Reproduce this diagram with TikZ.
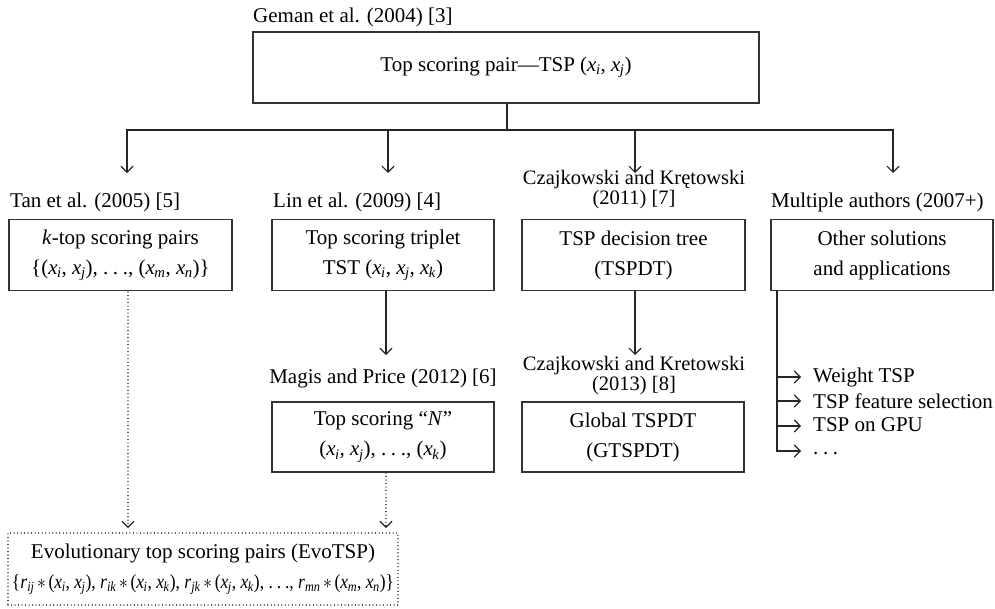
\documentclass[tikz,border=0pt]{standalone}
\usepackage{fix-cm}
\usepackage{graphicx}
\usepackage{fontspec}
\setmainfont{Liberation Serif}
\usetikzlibrary{arrows.meta}
\newcommand{\xv}[1]{\textit{x}\textsubscript{\kern-0.5pt\textit{#1}}}
\newcommand{\rv}[1]{\textit{r}\textsubscript{\textit{#1}}}
\newcommand{\dts}{.\kern0.22em.\kern0.22em.}
\newcommand{\mulop}{\kern0.15em$\ast$\kern0.15em}
\begin{document}
\begin{tikzpicture}[x=1pt,y=-1pt,
  every node/.style={font=\fontsize{21}{30}\selectfont},
  box/.style={draw=black!80,line width=1.3pt,align=center,inner sep=0pt,minimum height=71pt},
  lab/.style={inner sep=0pt,align=center},
  twolab/.style={inner sep=0pt,align=center,font=\fontsize{20.5}{20}\selectfont},
  line/.style={draw=black!85,line width=1.2pt},
  arr/.style={line,-{Straight Barb[length=6pt,width=12pt,line width=1.1pt]}},
  dotline/.style={draw=black!85,line width=1.1pt,dash pattern=on 0.01pt off 3.5pt,line cap=round},
  dotarr/.style={dotline,-{Straight Barb[length=6pt,width=12pt,line width=1.1pt,line cap=butt]}}
]
\useasboundingbox (0,0) rectangle (995,608);

% top
\node[lab,anchor=west] (geman) at (253,17) {Geman et al. (2004) [3]};
\node[box,minimum width=506pt] (top) at (506,67.5) {Top scoring pair---TSP (\xv{i}, \xv{j})};

% row 1 labels
\node[lab,anchor=west] (tanlab) at (10,202) {Tan et al. (2005) [5]};
\node[lab,anchor=west] (linlab) at (273,202) {Lin et al. (2009) [4]};
\node[twolab] (czlab) at (634,190) {Czajkowski and Krętowski\\(2011) [7]};
\node[lab,anchor=west] (mulab) at (771,202) {Multiple authors (2007+)};

% row 1 boxes
\node[box,minimum width=223pt] (tan) at (120.5,255) {\textit{k}-top scoring pairs\\\{(\xv{i}, \xv{j}), \dts, (\xv{m}, \xv{n})\}};
\node[box,minimum width=222pt] (lin) at (383,255) {Top scoring triplet\\TST (\xv{i}, \xv{j}, \xv{k})};
\node[box,minimum width=223pt] (tspdt) at (633.5,255) {TSP decision tree\\(TSPDT)};
\node[box,minimum width=222pt] (other) at (882,255) {Other solutions\\and applications};

% row 2
\node[lab] (maglab) at (383,378) {Magis and Price (2012) [6]};
\node[twolab] (cz2lab) at (634,376) {Czajkowski and Kretowski\\(2013) [8]};
\node[box,minimum width=222pt,minimum height=70pt] (magis) at (383,437) {Top scoring ``\textit{N}''\\(\xv{i}, \xv{j}), \dts, (\xv{k})};
\node[box,minimum width=222pt,minimum height=70pt] (global) at (633,437) {Global TSPDT\\(GTSPDT)};

% list
\node[lab,anchor=west] (w1) at (813,377) {Weight TSP};
\node[lab,anchor=west] (w2) at (813,401) {TSP feature selection};
\node[lab,anchor=west] (w3) at (813,425) {TSP on GPU};
\node[lab,anchor=west] (w4) at (813,454) {\dts};

% evo
\node[box,dotline,line width=1.1pt,minimum width=390pt,minimum height=72pt] (evo) at (203,569)
  {Evolutionary top scoring pairs (EvoTSP)\\\resizebox{382pt}{\height}{\fontsize{20}{30}\selectfont\{\rv{ij}\mulop(\xv{i}, \xv{j}), \rv{ik}\mulop(\xv{i}, \xv{k}), \rv{jk}\mulop(\xv{j}, \xv{k}), \dts, \rv{mn}\mulop(\xv{m}, \xv{n})\}}};

% coordinates
\coordinate (j) at (507,130);
\coordinate (t1) at (127,173);
\coordinate (t2) at (388,173);
\coordinate (t3) at (635,173);
\coordinate (t4) at (893,173);
\coordinate (m1) at (386,355);
\coordinate (g1) at (635,355);
\coordinate (ls) at (777,291);
\coordinate (a1) at (777,377);
\coordinate (a2) at (777,401);
\coordinate (a3) at (777,426);
\coordinate (e1) at (801,377);
\coordinate (e2) at (801,401);
\coordinate (e3) at (801,426);
\coordinate (e4) at (801,451);
\coordinate (d1s) at (128,292);
\coordinate (d1e) at (128,528);
\coordinate (d2s) at (386,473);
\coordinate (d2e) at (386,528);
\coordinate (m0) at (386,291);
\coordinate (g0) at (635,291);

% connectors
\draw[line] (top.south -| j) -- (j);
\draw[arr] (j) -| (t1);
\draw[arr] (j) -| (t2);
\draw[arr] (j) -| (t3);
\draw[arr] (j) -| (t4);
\draw[arr] (m0) -- (m1);
\draw[arr] (g0) -- (g1);
\draw[arr] (ls) |- (e4);
\draw[arr] (a1) -- (e1);
\draw[arr] (a2) -- (e2);
\draw[arr] (a3) -- (e3);
\draw[dotarr] (d1s) -- (d1e);
\draw[dotarr] (d2s) -- (d2e);
\end{tikzpicture}
\end{document}
